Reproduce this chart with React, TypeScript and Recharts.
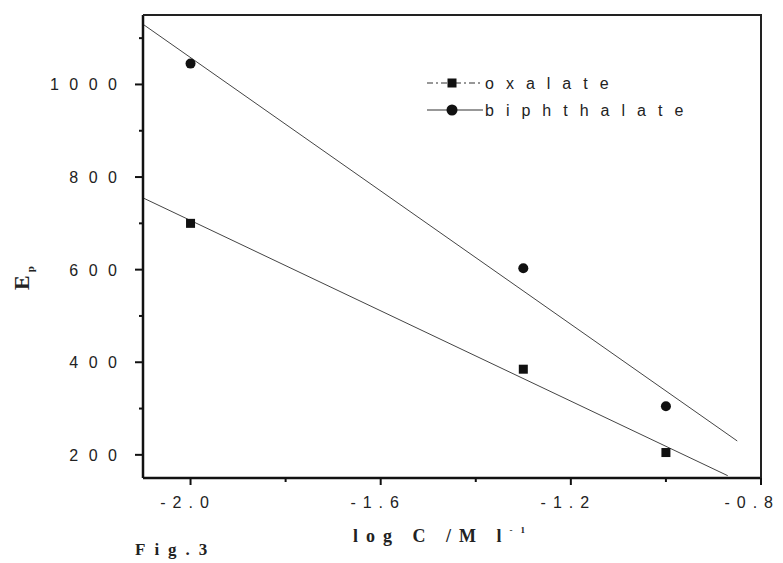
import { ComposedChart, Line, Scatter, XAxis, YAxis } from "recharts";

const oxalate = [
  { x: -2.0, y: 700 },
  { x: -1.3, y: 385 },
  { x: -1.0, y: 205 },
];
const biphthalate = [
  { x: -2.0, y: 1045 },
  { x: -1.3, y: 603 },
  { x: -1.0, y: 305 },
];
// fitted lines, endpoints
const oxalateFit = [
  { x: -2.1, y: 755 },
  { x: -0.87, y: 155 },
];
const biphthalateFit = [
  { x: -2.1, y: 1130 },
  { x: -0.85, y: 230 },
];

const xMajor = [-2.0, -1.6, -1.2, -0.8];
const xMinor = [-1.8, -1.4, -1.0];
const yMajor = [200, 400, 600, 800, 1000];
const yMinor = [300, 500, 700, 900, 1100];
const xDomain = [-2.1, -0.8];
const yDomain = [150, 1150];

const W = 783;
const H = 563;
const M = { top: 15, right: 22, left: 143, bottom: 85 };

const sans = "'Liberation Sans', Arial, sans-serif";
const serif = "'Liberation Serif', 'Times New Roman', serif";

const isMajor = (list: number[], v: number) => list.some((m) => Math.abs(m - v) < 1e-6);

function XTick(props: any) {
  const { x, y, payload } = props;
  const v = payload.value;
  const major = isMajor(xMajor, v);
  const last = Math.abs(v - xMajor[xMajor.length - 1]) < 1e-6;
  return (
    <g>
      <line x1={x} x2={x} y1={y} y2={y + (major ? 7 : 4)} stroke="#111" strokeWidth={2} />
      {major && (
        <text
          x={last ? x + 19 : x - 2.5}
          y={y + 30}
          textAnchor={last ? "end" : "middle"}
          fontFamily={sans}
          fontSize={16}
          letterSpacing={7}
          fill="#222"
        >
          {v.toFixed(1)}
        </text>
      )}
    </g>
  );
}

function YTick(props: any) {
  const { x, y, payload } = props;
  const v = payload.value;
  const major = isMajor(yMajor, v);
  return (
    <g>
      <line x1={x} x2={x - (major ? 8 : 4)} y1={y} y2={y} stroke="#111" strokeWidth={2} />
      {major && (
        <text x={x - 15.5} y={y + 6} textAnchor="end" fontFamily={sans} fontSize={16} letterSpacing={10.5} fill="#222">
          {v}
        </text>
      )}
    </g>
  );
}

const square = (p: any) => <rect x={p.cx - 4.5} y={p.cy - 4.5} width={9} height={9} fill="#111" />;
const circle = (p: any) => <circle cx={p.cx} cy={p.cy} r={5} fill="#111" />;

export default function App() {
  return (
    <div style={{ position: "absolute", left: 0, top: 0, width: W, height: H, background: "#fff" }}>
      <ComposedChart width={W} height={H} margin={{ top: M.top, right: M.right, bottom: 0, left: 0 }}>
        <XAxis
          dataKey="x"
          type="number"
          domain={xDomain}
          ticks={[...xMajor, ...xMinor]}
          interval={0}
          height={M.bottom}
          tickSize={0}
          tickMargin={0}
          tickLine={false}
          axisLine={{ stroke: "#111", strokeWidth: 2.5 }}
          tick={<XTick />}
        />
        <YAxis
          dataKey="y"
          type="number"
          domain={yDomain}
          ticks={[...yMajor, ...yMinor]}
          interval={0}
          width={M.left}
          tickSize={0}
          tickMargin={0}
          tickLine={false}
          axisLine={{ stroke: "#111", strokeWidth: 2.5 }}
          tick={<YTick />}
        />
        <Line data={biphthalateFit} dataKey="y" stroke="#444" strokeWidth={1} dot={false} isAnimationActive={false} />
        <Line data={oxalateFit} dataKey="y" stroke="#444" strokeWidth={1} dot={false} isAnimationActive={false} />
        <Scatter data={biphthalate} dataKey="y" shape={circle} isAnimationActive={false} />
        <Scatter data={oxalate} dataKey="y" shape={square} isAnimationActive={false} />
      </ComposedChart>
      <svg width={W} height={H} style={{ position: "absolute", left: 0, top: 0, pointerEvents: "none" }}>
        {/* top and right edges of the box */}
        <polyline
          points={`${M.left},${M.top} ${W - M.right},${M.top} ${W - M.right},${H - M.bottom}`}
          fill="none"
          stroke="#222"
          strokeWidth={2}
        />
        {/* legend */}
        <line x1={427} x2={483} y1={83} y2={83} stroke="#333" strokeWidth={1.2} strokeDasharray="6 3 2 3" />
        <rect x={447.5} y={78.5} width={9} height={9} fill="#111" />
        <text x={485} y={89} fontFamily={sans} fontSize={16} letterSpacing={12} fill="#222">oxalate</text>
        <line x1={427} x2={483} y1={110} y2={110} stroke="#333" strokeWidth={1.2} />
        <circle cx={452} cy={110} r={5.5} fill="#111" />
        <text x={485} y={116} fontFamily={sans} fontSize={16} letterSpacing={12} fill="#222">biphthalate</text>
        {/* axis titles */}
        <text transform="translate(29,290) rotate(-90)" fontFamily={serif} fontWeight="bold" fontSize={22} fill="#222">
          E<tspan fontSize={11} dy={5} dx={3}>p</tspan>
        </text>
        <text x={353} y={542} fontFamily={serif} fontWeight="bold" fontSize={18} letterSpacing={8} fill="#222">
          log C /M l<tspan fontSize={9} dy={-9}>-1</tspan>
        </text>
        <text x={135} y={555} fontFamily={serif} fontWeight="bold" fontSize={17} letterSpacing={9} fill="#222">
          Fig.3
        </text>
      </svg>
    </div>
  );
}
